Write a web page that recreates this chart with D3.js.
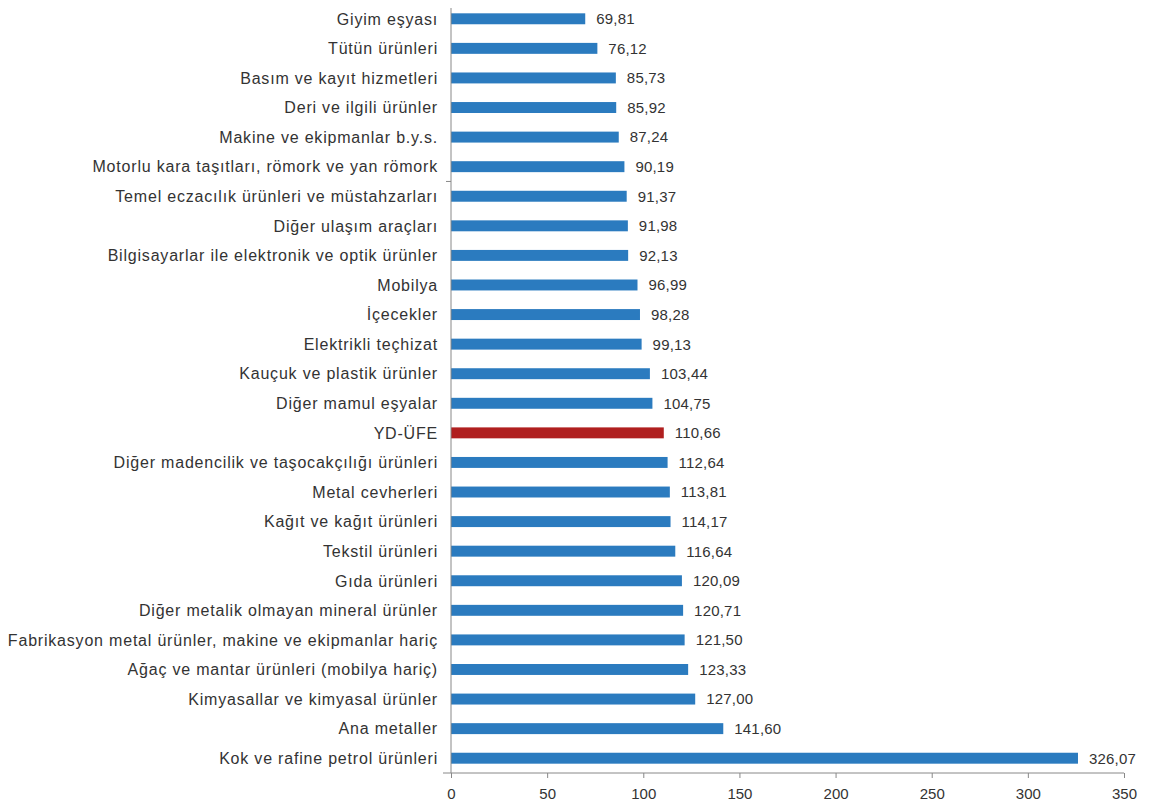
<!DOCTYPE html>
<html>
<head>
<meta charset="utf-8">
<script src="https://cdn.jsdelivr.net/npm/d3@7"></script>
<style>
  body { margin: 0; background: #fff; }
  text { font-family: "Liberation Sans", Arial, sans-serif; fill: #333; }
</style>
</head>
<body>
<div id="vis"></div>
<script>
// categories, top to bottom
var categories = [
  "Giyim eşyası",
  "Tütün ürünleri",
  "Basım ve kayıt hizmetleri",
  "Deri ve ilgili ürünler",
  "Makine ve ekipmanlar b.y.s.",
  "Motorlu kara taşıtları, römork ve yan römork",
  "Temel eczacılık ürünleri ve müstahzarları",
  "Diğer ulaşım araçları",
  "Bilgisayarlar ile elektronik ve optik ürünler",
  "Mobilya",
  "İçecekler",
  "Elektrikli teçhizat",
  "Kauçuk ve plastik ürünler",
  "Diğer mamul eşyalar",
  "YD-ÜFE",
  "Diğer madencilik ve taşocakçılığı ürünleri",
  "Metal cevherleri",
  "Kağıt ve kağıt ürünleri",
  "Tekstil ürünleri",
  "Gıda ürünleri",
  "Diğer metalik olmayan mineral ürünler",
  "Fabrikasyon metal ürünler, makine ve ekipmanlar hariç",
  "Ağaç ve mantar ürünleri (mobilya hariç)",
  "Kimyasallar ve kimyasal ürünler",
  "Ana metaller",
  "Kok ve rafine petrol ürünleri"
];
var values = [
  69.81, 76.12, 85.73, 85.92, 87.24, 90.19, 91.37, 91.98, 92.13, 96.99,
  98.28, 99.13, 103.44, 104.75, 110.66, 112.64, 113.81, 114.17, 116.64, 120.09,
  120.71, 121.50, 123.33, 127.00, 141.60, 326.07
];
var xTicks = [0, 50, 100, 150, 200, 250, 300, 350];
var highlight = "YD-ÜFE";

var width = 1157;
var height = 805;

var data = categories.map(function (c, i) { return { name: c, value: values[i] }; });

var x = d3.scaleLinear().domain([0, 350]).range([451, 1124]);
var y = d3.scaleBand().domain(categories).range([4, 773]).paddingInner(0.63).paddingOuter(0.315);

var fmt = function (v) { return d3.format(".2f")(v).replace(".", ","); };

var svg = d3.select("#vis").append("svg")
    .attr("width", width)
    .attr("height", height);

// bars
svg.selectAll(".bar")
    .data(data)
  .enter().append("rect")
    .attr("class", "bar")
    .attr("x", x(0))
    .attr("y", function (d) { return y(d.name); })
    .attr("width", function (d) { return x(d.value) - x(0); })
    .attr("height", y.bandwidth())
    .attr("fill", function (d) { return d.name === highlight ? "#b01f1f" : "#2b7bbf"; });

// value labels
svg.selectAll(".val")
    .data(data)
  .enter().append("text")
    .attr("class", "val")
    .attr("x", function (d) { return x(d.value) + 11; })
    .attr("y", function (d) { return y(d.name) + y.bandwidth() / 2; })
    .attr("dy", "0.36em")
    .style("font-size", "15px")
    .style("letter-spacing", "0.2px")
    .text(function (d) { return fmt(d.value); });

// category labels
svg.selectAll(".cat")
    .data(data)
  .enter().append("text")
    .attr("class", "cat")
    .attr("x", 438)
    .attr("y", function (d) { return y(d.name) + y.bandwidth() / 2; })
    .attr("dy", "0.36em")
    .attr("text-anchor", "end")
    .style("font-size", "16px")
    .style("letter-spacing", "0.8px")
    .text(function (d) { return d.name; });

// y axis line
svg.append("line")
    .attr("x1", x(0)).attr("x2", x(0))
    .attr("y1", 8).attr("y2", 773)
    .attr("stroke", "#888").attr("stroke-width", 1);

// lone category tick seen on the left of the axis
var tickY = y(categories[6]) - y.step() * y.paddingInner() / 2;
svg.append("line")
    .attr("x1", x(0) - 5).attr("x2", x(0))
    .attr("y1", tickY).attr("y2", tickY)
    .attr("stroke", "#888");

// x axis
var xAxis = d3.axisBottom(x).tickValues(xTicks).tickSize(5).tickPadding(10)
    .tickFormat(function (d) { return d; });
var gx = svg.append("g")
    .attr("transform", "translate(0," + 773 + ")")
    .call(xAxis);
gx.select(".domain").remove();
gx.append("line")
    .attr("x1", 443).attr("x2", x(350))
    .attr("stroke", "#888");
gx.selectAll(".tick line").attr("stroke", "#888");
gx.selectAll(".tick text")
    .style("font-size", "15px")
    .style("font-family", "Liberation Sans, Arial, sans-serif")
    .attr("fill", "#333");
</script>
</body>
</html>
